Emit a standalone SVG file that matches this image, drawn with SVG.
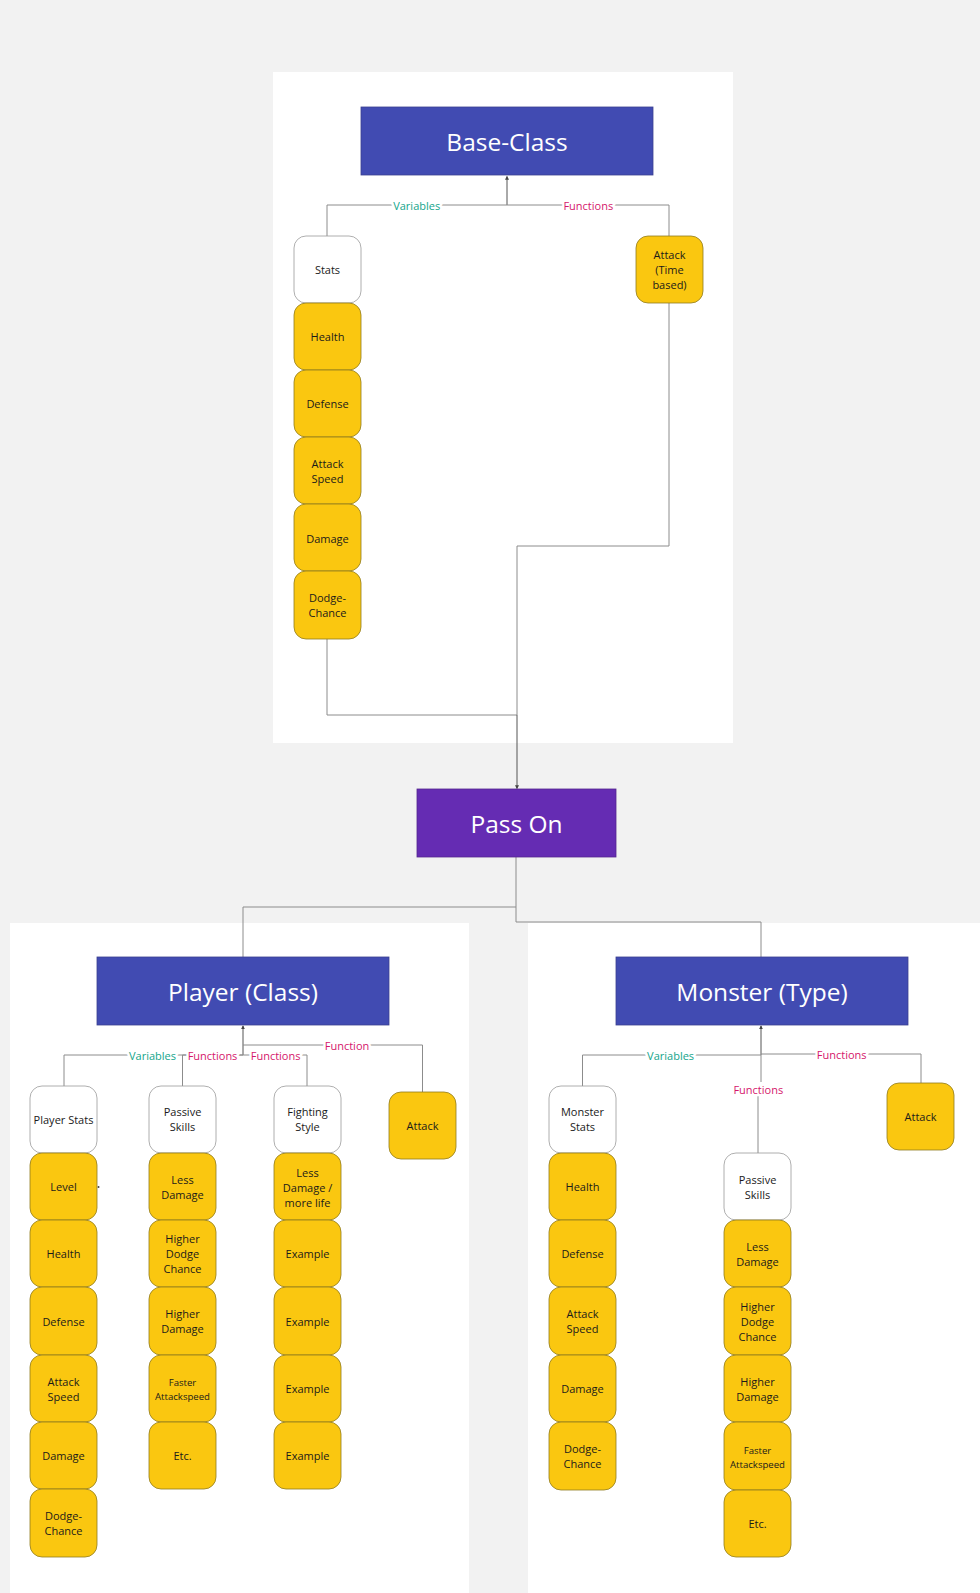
<svg xmlns="http://www.w3.org/2000/svg" width="980" height="1593" viewBox="0 0 980 1593">
<defs>
<style>
.panel{fill:#ffffff}
.title{fill:#414bb2;stroke:#3a3f8f;stroke-width:0.8}
.pass{fill:#652cb3;stroke:#55268f;stroke-width:0.8}
.tt{font-family:"Open Sans","Liberation Sans",sans-serif;font-size:24.5px;fill:#ffffff;text-anchor:middle}
.y{fill:#fac710;stroke:#8f7b1f;stroke-width:0.8}
.w{fill:#ffffff;stroke:#9a9a9a;stroke-width:0.8}
.nt{font-family:"Open Sans","Liberation Sans",sans-serif;font-size:11px;fill:#1a1a1a;text-anchor:middle}
.st{font-family:"Open Sans","Liberation Sans",sans-serif;font-size:9.6px;fill:#1a1a1a;text-anchor:middle}
.ln{fill:none;stroke:#8c8c8c;stroke-width:1}
.dk{fill:none;stroke:#555555;stroke-width:1}
.lv{font-family:"Open Sans","Liberation Sans",sans-serif;font-size:11px;fill:#13a58b;text-anchor:middle;stroke:#ffffff;stroke-width:5;paint-order:stroke}
.lf{font-family:"Open Sans","Liberation Sans",sans-serif;font-size:11px;fill:#d5166b;text-anchor:middle;stroke:#ffffff;stroke-width:5;paint-order:stroke}
</style>
<marker id="ah" viewBox="0 0 6 6" refX="5" refY="3" markerWidth="4" markerHeight="4" orient="auto">
<path d="M0,0 L6,3 L0,6 Z" fill="#444"/>
</marker>
</defs>
<rect x="0" y="0" width="980" height="1593" fill="#f2f2f2"/>
<g id="panels">
<rect class="panel" x="273" y="72" width="460" height="671"/>
<rect class="panel" x="10" y="923" width="459" height="670"/>
<rect class="panel" x="528" y="923" width="452" height="670"/>
</g>

<g id="connectors">
<path class="dk" d="M507,205 V176.5" marker-end="url(#ah)"/>
<path class="ln" d="M327,236 V205 H669 V236"/>
<path class="ln" d="M327,638 V715 H517"/>
<path class="ln" d="M669,303 V546 H517 V715"/>
<path class="dk" d="M517,715 V788.5" marker-end="url(#ah)"/>
<path class="ln" d="M516,857 V907 H243 V957"/>
<path class="ln" d="M516,907 V922 H761 V957"/>
<path class="dk" d="M243,1055 V1026" marker-end="url(#ah)"/>
<path class="ln" d="M243,1045 H422.5 V1092"/>
<path class="ln" d="M243,1055 H64 V1086"/>
<path class="ln" d="M243,1055 H182.5 V1086"/>
<path class="ln" d="M243,1055 H307 V1086"/>
<path class="dk" d="M761,1055 V1026" marker-end="url(#ah)"/>
<path class="ln" d="M761,1055 H582.5 V1086"/>
<path class="ln" d="M761,1054 H921 V1083"/>
<path class="ln" d="M761,1055 V1082 M758,1096 V1153"/>
<circle cx="98.5" cy="1187" r="1" fill="#444"/>
<text class="lv" x="416.7" y="209.5">Variables</text>
<text class="lf" x="588.3" y="209.5">Functions</text>
<text class="lf" x="347" y="1049.5">Function</text>
<text class="lv" x="152.5" y="1059.5">Variables</text>
<text class="lf" x="212.5" y="1059.5">Functions</text>
<text class="lf" x="275.6" y="1059.5">Functions</text>
<text class="lv" x="670.6" y="1059.5">Variables</text>
<text class="lf" x="841.7" y="1058.5">Functions</text>
<text class="lf" x="758.3" y="1093.5">Functions</text>
</g>

<g id="base-class"><rect class="title" x="361" y="107" width="292" height="68"/><text class="tt" x="507" y="150.5">Base-Class</text></g>
<g id="base-stats"><rect class="w" x="294" y="236" width="67" height="67" rx="12"/><text class="nt" x="327.5" y="274">Stats</text></g>
<g id="base-health"><rect class="y" x="294" y="303" width="67" height="67" rx="12"/><text class="nt" x="327.5" y="341">Health</text></g>
<g id="base-defense"><rect class="y" x="294" y="370" width="67" height="67" rx="12"/><text class="nt" x="327.5" y="408">Defense</text></g>
<g id="base-attackspeed"><rect class="y" x="294" y="437" width="67" height="67" rx="12"/><text class="nt" x="327.5" y="467.5">Attack</text><text class="nt" x="327.5" y="482.5">Speed</text></g>
<g id="base-damage"><rect class="y" x="294" y="504" width="67" height="67" rx="12"/><text class="nt" x="327.5" y="542.5">Damage</text></g>
<g id="base-dodge"><rect class="y" x="294" y="571" width="67" height="68" rx="12"/><text class="nt" x="327.5" y="602">Dodge-</text><text class="nt" x="327.5" y="617">Chance</text></g>
<g id="base-attack"><rect class="y" x="636" y="236" width="67" height="67" rx="12"/><text class="nt" x="669.5" y="258.5">Attack</text><text class="nt" x="669.5" y="273.5">(Time</text><text class="nt" x="669.5" y="288.5">based)</text></g>

<g id="pass-on"><rect class="pass" x="417" y="789" width="199" height="68"/><text class="tt" x="516.5" y="832.5">Pass On</text></g>

<g id="player-class"><rect class="title" x="97" y="957" width="292" height="68"/><text class="tt" x="243" y="1000.5">Player (Class)</text></g>
<g id="player-stats"><rect class="w" x="30" y="1086" width="67" height="67" rx="12"/><text class="nt" x="63.5" y="1123.5">Player Stats</text></g>
<g id="player-level"><rect class="y" x="30" y="1153" width="67" height="67" rx="12"/><text class="nt" x="63.5" y="1191">Level</text></g>
<g id="player-health"><rect class="y" x="30" y="1220" width="67" height="67" rx="12"/><text class="nt" x="63.5" y="1258">Health</text></g>
<g id="player-defense"><rect class="y" x="30" y="1287" width="67" height="68" rx="12"/><text class="nt" x="63.5" y="1326">Defense</text></g>
<g id="player-attackspeed"><rect class="y" x="30" y="1355" width="67" height="67" rx="12"/><text class="nt" x="63.5" y="1386">Attack</text><text class="nt" x="63.5" y="1401">Speed</text></g>
<g id="player-damage"><rect class="y" x="30" y="1422" width="67" height="67" rx="12"/><text class="nt" x="63.5" y="1460">Damage</text></g>
<g id="player-dodge"><rect class="y" x="30" y="1489" width="67" height="68" rx="12"/><text class="nt" x="63.5" y="1520">Dodge-</text><text class="nt" x="63.5" y="1535">Chance</text></g>

<g id="player-passive"><rect class="w" x="149" y="1086" width="67" height="67" rx="12"/><text class="nt" x="182.5" y="1116">Passive</text><text class="nt" x="182.5" y="1131">Skills</text></g>
<g id="player-lessdamage"><rect class="y" x="149" y="1153" width="67" height="67" rx="12"/><text class="nt" x="182.5" y="1184">Less</text><text class="nt" x="182.5" y="1199">Damage</text></g>
<g id="player-higherdodge"><rect class="y" x="149" y="1220" width="67" height="67" rx="12"/><text class="nt" x="182.5" y="1243">Higher</text><text class="nt" x="182.5" y="1258">Dodge</text><text class="nt" x="182.5" y="1273">Chance</text></g>
<g id="player-higherdamage"><rect class="y" x="149" y="1287" width="67" height="68" rx="12"/><text class="nt" x="182.5" y="1318">Higher</text><text class="nt" x="182.5" y="1333">Damage</text></g>
<g id="player-faster"><rect class="y" x="149" y="1355" width="67" height="67" rx="12"/><text class="st" x="182.5" y="1385.5">Faster</text><text class="st" x="182.5" y="1399.5">Attackspeed</text></g>
<g id="player-etc"><rect class="y" x="149" y="1422" width="67" height="67" rx="12"/><text class="nt" x="182.5" y="1460">Etc.</text></g>

<g id="player-fighting"><rect class="w" x="274" y="1086" width="67" height="67" rx="12"/><text class="nt" x="307.5" y="1116">Fighting</text><text class="nt" x="307.5" y="1131">Style</text></g>
<g id="player-lessdamage-life"><rect class="y" x="274" y="1153" width="67" height="67" rx="12"/><text class="nt" x="307.5" y="1177">Less</text><text class="nt" x="307.5" y="1192">Damage /</text><text class="nt" x="307.5" y="1207">more life</text></g>
<g id="player-example1"><rect class="y" x="274" y="1220" width="67" height="67" rx="12"/><text class="nt" x="307.5" y="1258">Example</text></g>
<g id="player-example2"><rect class="y" x="274" y="1287" width="67" height="68" rx="12"/><text class="nt" x="307.5" y="1326">Example</text></g>
<g id="player-example3"><rect class="y" x="274" y="1355" width="67" height="67" rx="12"/><text class="nt" x="307.5" y="1393">Example</text></g>
<g id="player-example4"><rect class="y" x="274" y="1422" width="67" height="67" rx="12"/><text class="nt" x="307.5" y="1460">Example</text></g>

<g id="player-attack"><rect class="y" x="389" y="1092" width="67" height="67" rx="12"/><text class="nt" x="422.5" y="1129.5">Attack</text></g>

<g id="monster-type"><rect class="title" x="616" y="957" width="292" height="68"/><text class="tt" x="762" y="1000.5">Monster (Type)</text></g>
<g id="monster-stats"><rect class="w" x="549" y="1086" width="67" height="67" rx="12"/><text class="nt" x="582.5" y="1116">Monster</text><text class="nt" x="582.5" y="1131">Stats</text></g>
<g id="monster-health"><rect class="y" x="549" y="1153" width="67" height="67" rx="12"/><text class="nt" x="582.5" y="1191">Health</text></g>
<g id="monster-defense"><rect class="y" x="549" y="1220" width="67" height="67" rx="12"/><text class="nt" x="582.5" y="1258">Defense</text></g>
<g id="monster-attackspeed"><rect class="y" x="549" y="1287" width="67" height="68" rx="12"/><text class="nt" x="582.5" y="1318">Attack</text><text class="nt" x="582.5" y="1333">Speed</text></g>
<g id="monster-damage"><rect class="y" x="549" y="1355" width="67" height="67" rx="12"/><text class="nt" x="582.5" y="1393">Damage</text></g>
<g id="monster-dodge"><rect class="y" x="549" y="1422" width="67" height="68" rx="12"/><text class="nt" x="582.5" y="1453">Dodge-</text><text class="nt" x="582.5" y="1468">Chance</text></g>

<g id="monster-passive"><rect class="w" x="724" y="1153" width="67" height="67" rx="12"/><text class="nt" x="757.5" y="1184">Passive</text><text class="nt" x="757.5" y="1199">Skills</text></g>
<g id="monster-lessdamage"><rect class="y" x="724" y="1220" width="67" height="67" rx="12"/><text class="nt" x="757.5" y="1251">Less</text><text class="nt" x="757.5" y="1266">Damage</text></g>
<g id="monster-higherdodge"><rect class="y" x="724" y="1287" width="67" height="68" rx="12"/><text class="nt" x="757.5" y="1311">Higher</text><text class="nt" x="757.5" y="1326">Dodge</text><text class="nt" x="757.5" y="1341">Chance</text></g>
<g id="monster-higherdamage"><rect class="y" x="724" y="1355" width="67" height="67" rx="12"/><text class="nt" x="757.5" y="1386">Higher</text><text class="nt" x="757.5" y="1401">Damage</text></g>
<g id="monster-faster"><rect class="y" x="724" y="1422" width="67" height="68" rx="12"/><text class="st" x="757.5" y="1453.5">Faster</text><text class="st" x="757.5" y="1467.5">Attackspeed</text></g>
<g id="monster-etc"><rect class="y" x="724" y="1490" width="67" height="67" rx="12"/><text class="nt" x="757.5" y="1528">Etc.</text></g>

<g id="monster-attack"><rect class="y" x="887" y="1083" width="67" height="67" rx="12"/><text class="nt" x="920.5" y="1120.5">Attack</text></g>
</svg>
